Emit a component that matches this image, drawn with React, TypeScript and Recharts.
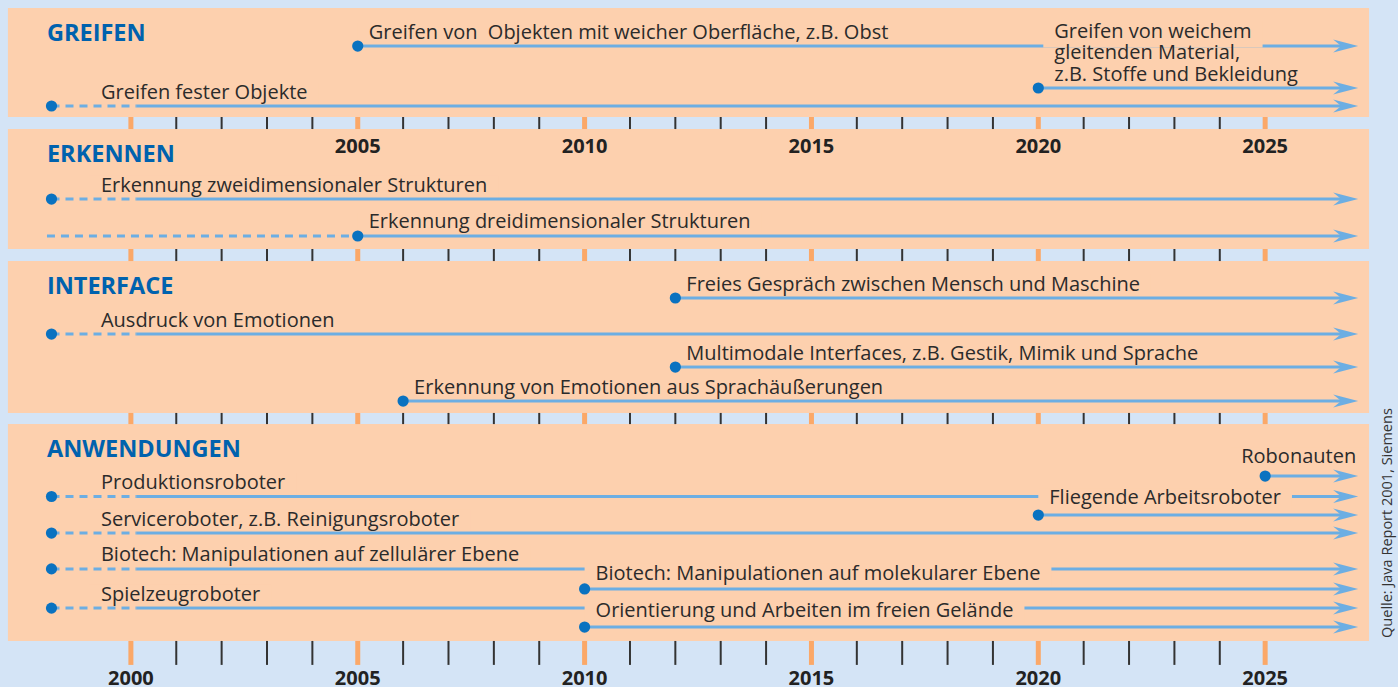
import React from "react";
import {
  ComposedChart,
  XAxis,
  YAxis,
  ReferenceArea,
  ReferenceLine,
  Scatter,
} from "recharts";

// chart frame: x in years, y in "lanes" (rows of the timeline, top to bottom)
const X_DOMAIN = [1997.115, 2027.928];
const Y_DOMAIN = [0, 37];
const HORIZON = 2027.05; // where every arrow points to
const PANEL_LEFT = 1997.29;
const PANEL_RIGHT = 2027.29;

const groups = ["GREIFEN", "ERKENNEN", "INTERFACE", "ANWENDUNGEN"];
const panelTop = [0.43, 6.95, 14.06, 22.84];
const panelBottom = [6.3, 13.41, 22.24, 34.52];
const bandBottom = [6.95, 14.06, 22.84, 35.81];

const tickYears = [
  2000, 2001, 2002, 2003, 2004, 2005, 2006, 2007, 2008, 2009, 2010, 2011, 2012,
  2013, 2014, 2015, 2016, 2017, 2018, 2019, 2020, 2021, 2022, 2023, 2024, 2025,
];
const yearLabels = [2000, 2005, 2010, 2015, 2020, 2025];
const innerYearLabels = [2005, 2010, 2015, 2020, 2025];

// from: line start, dot: year of the dot, solid: year where the dashed part ends
const milestones = [
  { label: ["Greifen von  Objekten mit weicher Oberfläche, z.B. Obst"], from: 2005, dot: 2005, solid: 2005, lane: 2.48 },
  { label: ["Greifen von weichem", "gleitenden Material,", "z.B. Stoffe und Bekleidung"], from: 2020, dot: 2020, solid: 2020, lane: 4.74 },
  { label: ["Greifen fester Objekte"], from: 1998.25, dot: 1998.25, solid: 2000.13, lane: 5.71 },
  { label: ["Erkennung zweidimensionaler Strukturen"], from: 1998.25, dot: 1998.25, solid: 2000.13, lane: 10.72 },
  { label: ["Erkennung dreidimensionaler Strukturen"], from: 1998.15, dot: 2005, solid: 2005, lane: 12.71 },
  { label: ["Freies Gespräch zwischen Mensch und Maschine"], from: 2012, dot: 2012, solid: 2012, lane: 16.05 },
  { label: ["Ausdruck von Emotionen"], from: 1998.25, dot: 1998.25, solid: 2000.13, lane: 17.99 },
  { label: ["Multimodale Interfaces, z.B. Gestik, Mimik und Sprache"], from: 2012, dot: 2012, solid: 2012, lane: 19.77 },
  { label: ["Erkennung von Emotionen aus Sprachäußerungen"], from: 2006, dot: 2006, solid: 2006, lane: 21.6 },
  { label: ["Robonauten"], from: 2025, dot: 2025, solid: 2025, lane: 25.64 },
  { label: ["Produktionsroboter"], from: 1998.25, dot: 1998.25, solid: 2000.13, lane: 26.74 },
  { label: ["Fliegende Arbeitsroboter"], from: 2020, dot: 2020, solid: 2020, lane: 27.74 },
  { label: ["Serviceroboter, z.B. Reinigungsroboter"], from: 1998.25, dot: 1998.25, solid: 2000.13, lane: 28.71 },
  { label: ["Biotech: Manipulationen auf zellulärer Ebene"], from: 1998.25, dot: 1998.25, solid: 2000.13, lane: 30.64 },
  { label: ["Biotech: Manipulationen auf molekularer Ebene"], from: 2010, dot: 2010, solid: 2010, lane: 31.72 },
  { label: ["Spielzeugroboter"], from: 1998.25, dot: 1998.25, solid: 2000.13, lane: 32.75 },
  { label: ["Orientierung und Arbeiten im freien Gelände"], from: 2010, dot: 2010, solid: 2010, lane: 33.77 },
];

const SOURCE = "Quelle: Java Report 2001, Siemens";

const BG = "#d4e4f6";
const PEACH = "#fdd0ae";
const LINE = "#6caee3";
const DOT = "#0a72c0";
const TITLE = "#0062ae";
const TEXT = "#2b2b2b";
const ORANGE = "#fba868";
const FONT = '"Open Sans", sans-serif';
const LABEL_SIZE = 20;
const LINE_GAP = 21.5;

const measureCtx =
  typeof document !== "undefined" ? document.createElement("canvas").getContext("2d") : null;
const textWidth = (s: string, font: string) => {
  if (!measureCtx) return s.length * 9.5;
  measureCtx.font = font;
  return measureCtx.measureText(s).width;
};

// label placement tweaks (px)
const labelLift: Record<number, number> = { 9: -13, 11: -11, 14: -9, 16: -10 };

const labelPoints = milestones.map((m, i) => {
  const early = m.dot < 2000;
  const end = i === 9;
  return {
    x: end ? HORIZON : early ? 1999.34 : m.dot,
    y: m.lane,
    lines: m.label,
    dx: end ? -2 : early ? 0 : i === 1 ? 16 : 11,
    lift: labelLift[i] ?? -7.5,
    anchor: end ? "end" : "start",
  };
});
const dotPoints = milestones.map((m) => ({ x: m.dot, y: m.lane }));
const arrowPoints = milestones.map((m) => ({ x: HORIZON, y: m.lane }));
const titlePoints = groups.map((g, i) => ({ x: 1998.15, y: panelTop[i], text: g }));
const yearPoints = [
  ...yearLabels.map((yr) => ({ x: yr, y: bandBottom[3], text: String(yr), dy: 20 })),
  ...innerYearLabels.map((yr) => ({ x: yr, y: panelTop[1], text: String(yr), dy: 24 })),
];
const sourcePoint = [{ x: 2027.664, y: 28.17, text: SOURCE }];

const LabelShape = (props: any) => {
  const { cx, cy, payload } = props;
  const lines: string[] = payload.lines;
  const x = cx + payload.dx;
  const last = cy + payload.lift;
  const first = last - (lines.length - 1) * LINE_GAP;
  const w = textWidth(lines[0], `${LABEL_SIZE}px ${FONT}`);
  const rx = payload.anchor === "end" ? x - w : x;
  return (
    <g>
      <rect
        x={rx - 11}
        y={first - 16}
        width={w + 22}
        height={lines.length > 1 ? 26 : 21.5}
        fill={PEACH}
      />
      {lines.map((t, k) => (
        <text
          key={k}
          x={x}
          y={first + k * LINE_GAP}
          textAnchor={payload.anchor}
          fontFamily={FONT}
          fontSize={LABEL_SIZE}
          fill={TEXT}
          style={{ whiteSpace: "pre" }}
        >
          {t}
        </text>
      ))}
    </g>
  );
};

const DotShape = (props: any) => <circle cx={props.cx} cy={props.cy} r={5.6} fill={DOT} />;

const ArrowShape = (props: any) => {
  const { cx, cy } = props;
  return (
    <path
      d={`M${cx},${cy} L${cx - 25},${cy - 6.5} L${cx - 17},${cy} L${cx - 25},${cy + 6.5} Z`}
      fill={LINE}
    />
  );
};

const TitleShape = (props: any) => (
  <text x={props.cx} y={props.cy + 33} fontFamily={FONT} fontWeight={700} fontSize={23.5} fill={TITLE}>
    {props.payload.text}
  </text>
);

const YearShape = (props: any) => (
  <text
    x={props.cx}
    y={props.cy + props.payload.dy}
    textAnchor="middle"
    fontFamily={FONT}
    fontWeight={700}
    fontSize={20}
    fill="#222"
  >
    {props.payload.text}
  </text>
);

const SourceShape = (props: any) => (
  <text
    x={props.cx}
    y={props.cy}
    textAnchor="middle"
    dominantBaseline="central"
    transform={`rotate(-90 ${props.cx} ${props.cy})`}
    fontFamily={FONT}
    fontSize={14.5}
    fill="#333"
  >
    {props.payload.text}
  </text>
);

export default function App() {
  return (
    <div style={{ position: "absolute", left: 0, top: 0, width: 1398, height: 687, background: BG }}>
      <ComposedChart width={1398} height={687} margin={{ top: 0, right: 0, bottom: 0, left: 0 }}>
        <XAxis type="number" dataKey="x" domain={X_DOMAIN} allowDataOverflow hide />
        <YAxis type="number" dataKey="y" domain={Y_DOMAIN} allowDataOverflow reversed hide />

        {groups.map((g, i) => (
          <ReferenceArea
            key={g}
            x1={PANEL_LEFT}
            x2={PANEL_RIGHT}
            y1={panelTop[i]}
            y2={panelBottom[i]}
            fill={PEACH}
            fillOpacity={1}
            stroke="none"
            ifOverflow="visible"
          />
        ))}

        {groups.map((g, i) =>
          tickYears.map((yr) => (
            <ReferenceLine
              key={`${g}-${yr}`}
              segment={[
                { x: yr, y: panelBottom[i] },
                { x: yr, y: bandBottom[i] },
              ]}
              stroke={yr % 5 === 0 ? ORANGE : "#333"}
              strokeWidth={yr % 5 === 0 ? 5 : 2}
              ifOverflow="visible"
            />
          ))
        )}

        {milestones.map((m, i) =>
          m.solid > m.from ? (
            <ReferenceLine
              key={`dash-${i}`}
              segment={[
                { x: m.from, y: m.lane },
                { x: m.solid, y: m.lane },
              ]}
              stroke={LINE}
              strokeWidth={3}
              strokeDasharray="8 6"
              ifOverflow="visible"
            />
          ) : null
        )}
        {milestones.map((m, i) => (
          <ReferenceLine
            key={`solid-${i}`}
            segment={[
              { x: m.solid, y: m.lane },
              { x: HORIZON - 0.3, y: m.lane },
            ]}
            stroke={LINE}
            strokeWidth={3}
            ifOverflow="visible"
          />
        ))}

        <Scatter data={labelPoints} shape={LabelShape} isAnimationActive={false} />
        <Scatter data={dotPoints} shape={DotShape} isAnimationActive={false} />
        <Scatter data={arrowPoints} shape={ArrowShape} isAnimationActive={false} />
        <Scatter data={titlePoints} shape={TitleShape} isAnimationActive={false} />
        <Scatter data={yearPoints} shape={YearShape} isAnimationActive={false} />
        <Scatter data={sourcePoint} shape={SourceShape} isAnimationActive={false} />
      </ComposedChart>
    </div>
  );
}
